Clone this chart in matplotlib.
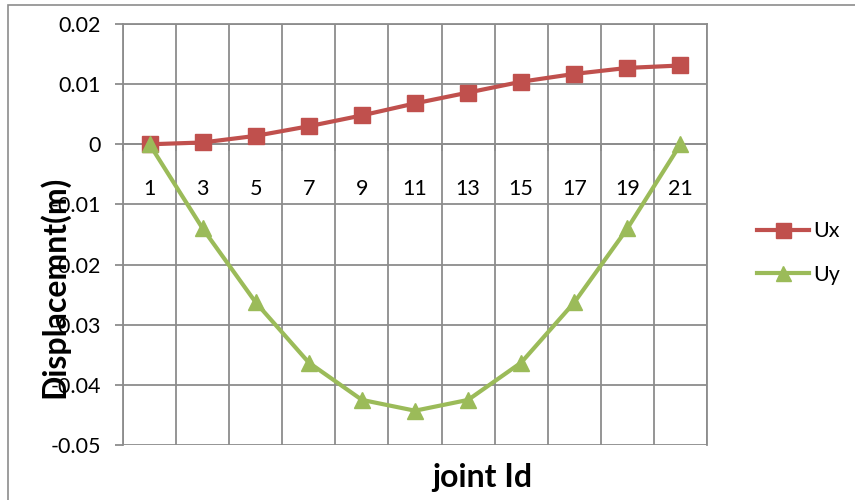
import matplotlib
matplotlib.use("Agg")
import matplotlib.pyplot as plt
from matplotlib.patches import Rectangle
import numpy as np

plt.rcParams['font.family'] = ['Lato', 'DejaVu Sans']

joints = [1, 3, 5, 7, 9, 11, 13, 15, 17, 19, 21]
ux = [0.0, 0.0003, 0.0014, 0.0030, 0.0048, 0.0068, 0.0086, 0.0104, 0.0117, 0.0127, 0.0131]
uy = [0.0, -0.0140, -0.0263, -0.0363, -0.0425, -0.0443, -0.0425, -0.0363, -0.0263, -0.0140, 0.0]
y_ticks = [-0.05, -0.04, -0.03, -0.02, -0.01, 0, 0.01, 0.02]
y_labels = ['-0.05', '-0.04', '-0.03', '-0.02', '-0.01', '0', '0.01', '0.02']

grid_col = '#8c8c8c'
tick_fs = 15.5
title_fs = 23

fig = plt.figure(figsize=(8.55, 5.0), dpi=100)
fig.patches.append(Rectangle((8 / 855, -0.1), 1.2, 1.1 - 5 / 500,
                             transform=fig.transFigure, fill=False,
                             edgecolor='#8c8c8c', linewidth=1.2))

ax = fig.add_axes([123 / 855, 1 - 445 / 500, (707 - 123) / 855, (445 - 24) / 500])

x = np.arange(len(joints))
ax.plot(x, ux, color='#C0504D', linewidth=3, marker='s', markersize=12, label='Ux', zorder=4)
ax.plot(x, uy, color='#9BBB59', linewidth=3, marker='^', markersize=12, label='Uy', zorder=4)

ax.set_xlim(-0.5, len(joints) - 0.5)
ax.set_ylim(-0.05, 0.02)
ax.set_yticks(y_ticks)
ax.set_yticklabels(y_labels)
ax.set_xticks(x)
ax.set_xticklabels([str(j) for j in joints])
ax.set_xticks(np.arange(-0.5, len(joints)), minor=True)

ax.grid(True, axis='y', which='major', color=grid_col, linewidth=1.3)
ax.grid(True, axis='x', which='minor', color=grid_col, linewidth=1.3)
ax.set_axisbelow(True)

for s in ['top', 'right', 'left']:
    ax.spines[s].set_color(grid_col)
    ax.spines[s].set_linewidth(1.3)
ax.spines['bottom'].set_position(('data', 0))
ax.spines['bottom'].set_color(grid_col)
ax.spines['bottom'].set_linewidth(1.3)

ax.tick_params(axis='y', which='major', length=6, color=grid_col, width=1.3,
               labelsize=tick_fs, pad=10)
ax.tick_params(axis='x', which='major', length=0, labelsize=tick_fs, pad=25)
ax.tick_params(axis='x', which='minor', length=5, color=grid_col, width=1.3)

fig.text(54 / 855, 1 - 287 / 500, 'Displacemnt(m)', rotation=90, fontsize=title_fs,
         fontweight='bold', ha='center', va='center')
fig.text(482 / 855, 1 - 477 / 500, 'joint Id', fontsize=title_fs, fontweight='bold',
         ha='center', va='center')

ax.legend(loc='center left', bbox_to_anchor=(757 / 855, 1 - 253 / 500),
          bbox_transform=fig.transFigure, frameon=False, fontsize=tick_fs,
          handlelength=2.4, handletextpad=0.2, labelspacing=1.1,
          borderpad=0, borderaxespad=0, markerscale=0.9)

fig.savefig('out.png', dpi=100)
